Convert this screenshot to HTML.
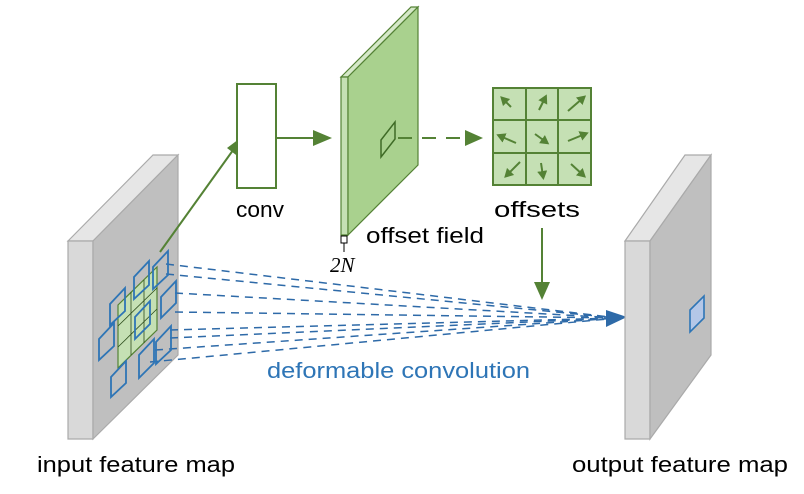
<!DOCTYPE html>
<html><head><meta charset="utf-8"><style>
html,body{margin:0;padding:0;background:#fff;}
svg{display:block;font-family:"Liberation Sans",sans-serif;}
</style></head><body>
<svg width="804" height="494" viewBox="0 0 804 494" xmlns="http://www.w3.org/2000/svg">
<defs>
<marker id="ga" markerWidth="10" markerHeight="10" refX="5" refY="5" orient="auto" markerUnits="userSpaceOnUse"><path d="M0,0 L9,5 L0,10 Z" fill="#548235"/></marker>
</defs>
<!-- input feature map -->
<polygon points="68,241 153,155 178,155 93,241" fill="#e6e6e6" stroke="#aaa" stroke-width="1.2"/>
<polygon points="68,241 93,241 93,439 68,439" fill="#d9d9d9" stroke="#aaa" stroke-width="1.2"/>
<polygon points="93,241 178,155 178,355 93,439" fill="#bfbfbf" stroke="#aaa" stroke-width="1.2"/>
<!-- green grid -->
<polygon points="118,305 157,267 157,330 118,368" fill="#c5e0b4" stroke="#548235" stroke-width="1.2"/>
<g stroke="#2b4a1a" stroke-width="0.8">
<line x1="131" y1="292" x2="131" y2="355"/><line x1="144" y1="280" x2="144" y2="343"/>
<line x1="118" y1="326" x2="157" y2="288"/><line x1="118" y1="347" x2="157" y2="309"/>
</g>
<!-- blue dashed lines -->
<g stroke="#2e6aa8" stroke-width="1.5" stroke-dasharray="8,6" fill="none">
<line x1="166" y1="264" x2="618" y2="318"/>
<line x1="166" y1="274" x2="618" y2="318"/>
<line x1="175" y1="293" x2="618" y2="318"/>
<line x1="175" y1="312" x2="618" y2="318"/>
<line x1="170" y1="330" x2="618" y2="318"/>
<line x1="170" y1="338" x2="618" y2="318"/>
<line x1="155" y1="350" x2="618" y2="318"/>
<line x1="150" y1="362" x2="618" y2="318"/>
</g>
<polygon points="606,310 627,317 606,327" fill="#2e6aa8"/>
<!-- blue squares -->
<g fill="none" stroke="#2e75b6" stroke-width="1.8">
<polygon points="134,277 149,261 149,285 134,299"/>
<polygon points="153,267 168,251 168,275 153,289"/>
<polygon points="110,304 125,288 125,311 110,325"/>
<polygon points="161,297 176,281 176,303 161,318"/>
<polygon points="135,317 150,301 150,324 135,339"/>
<polygon points="99,339 114,323 114,346 99,360"/>
<polygon points="156,342 171,326 171,350 156,364"/>
<polygon points="139,355 154,339 154,363 139,378"/>
<polygon points="111,377 126,361 126,383 111,397"/>
</g>
<!-- output feature map -->
<polygon points="625,241 685,155 711,155 650,241" fill="#e6e6e6" stroke="#aaa" stroke-width="1.2"/>
<polygon points="625,241 650,241 650,439 625,439" fill="#d9d9d9" stroke="#aaa" stroke-width="1.2"/>
<polygon points="650,241 711,155 711,355 650,439" fill="#bfbfbf" stroke="#aaa" stroke-width="1.2"/>
<polygon points="690,310 704,296 704,318 690,332" fill="#b4c7e7" stroke="#2e75b6" stroke-width="1.6"/>
<!-- green arrow input->conv -->
<line x1="160" y1="252" x2="236" y2="146" stroke="#548235" stroke-width="2"/>
<polygon points="243,136 240,158 227,148" fill="#548235"/>
<!-- conv box -->
<rect x="237" y="84" width="39" height="104" fill="#fff" stroke="#548235" stroke-width="2"/>
<text x="236" y="217" font-size="22" textLength="48" lengthAdjust="spacingAndGlyphs" fill="#000">conv</text>
<line x1="276" y1="138" x2="316" y2="138" stroke="#548235" stroke-width="2"/>
<polygon points="332,138 313,130 313,146" fill="#548235"/>
<!-- offset field -->
<polygon points="341,77 411,7 418,7 348,77" fill="#d5e8c8" stroke="#548235" stroke-width="1.2"/>
<polygon points="341,77 348,77 348,235 341,235" fill="#c5e0b4" stroke="#548235" stroke-width="1.2"/>
<polygon points="348,77 418,7 418,165 348,235" fill="#a9d18e" stroke="#548235" stroke-width="1.2"/>
<polygon points="381,140 395,122 395,139 381,157" fill="none" stroke="#3f6b26" stroke-width="1.5"/>
<rect x="341" y="236" width="6" height="7" fill="#fff" stroke="#000" stroke-width="1"/>
<line x1="344" y1="243" x2="344" y2="252" stroke="#000" stroke-width="1"/>
<text x="330" y="272" font-size="21" font-style="italic" font-family="Liberation Serif,serif">2N</text>
<text x="366" y="243" font-size="22" textLength="118" lengthAdjust="spacingAndGlyphs" fill="#000">offset field</text>
<!-- dashed arrow -->
<line x1="398" y1="138" x2="466" y2="138" stroke="#548235" stroke-width="2" stroke-dasharray="14,10"/>
<polygon points="483,138 465,130 465,146" fill="#548235"/>
<!-- offsets grid -->
<rect x="493" y="88" width="98" height="97" fill="#c5e0b4" stroke="#548235" stroke-width="2"/>
<g stroke="#548235" stroke-width="2">
<line x1="526" y1="88" x2="526" y2="185"/><line x1="558" y1="88" x2="558" y2="185"/>
<line x1="493" y1="120" x2="591" y2="120"/><line x1="493" y1="153" x2="591" y2="153"/>
</g>
<g stroke="#548235" stroke-width="2" marker-end="url(#ga)">
<line x1="511" y1="107" x2="503" y2="99"/>
<line x1="539" y1="110" x2="545" y2="98"/>
<line x1="568" y1="111" x2="583" y2="98"/>
<line x1="516" y1="143" x2="500" y2="136"/>
<line x1="535" y1="134" x2="546" y2="142"/>
<line x1="568" y1="141" x2="585" y2="134"/>
<line x1="520" y1="162" x2="507" y2="175"/>
<line x1="541" y1="163" x2="543" y2="176"/>
<line x1="571" y1="164" x2="583" y2="175"/>
</g>
<text x="494" y="217" font-size="22" textLength="86" lengthAdjust="spacingAndGlyphs" fill="#000">offsets</text>
<line x1="542" y1="228" x2="542" y2="284" stroke="#548235" stroke-width="2"/>
<polygon points="542,300 534,282 550,282" fill="#548235"/>
<!-- labels -->
<text x="267" y="378" font-size="22" textLength="263" lengthAdjust="spacingAndGlyphs" fill="#2e75b6">deformable convolution</text>
<text x="37" y="472" font-size="22" textLength="198" lengthAdjust="spacingAndGlyphs" fill="#000">input feature map</text>
<text x="572" y="472" font-size="22" textLength="216" lengthAdjust="spacingAndGlyphs" fill="#000">output feature map</text>
</svg>
</body></html>
